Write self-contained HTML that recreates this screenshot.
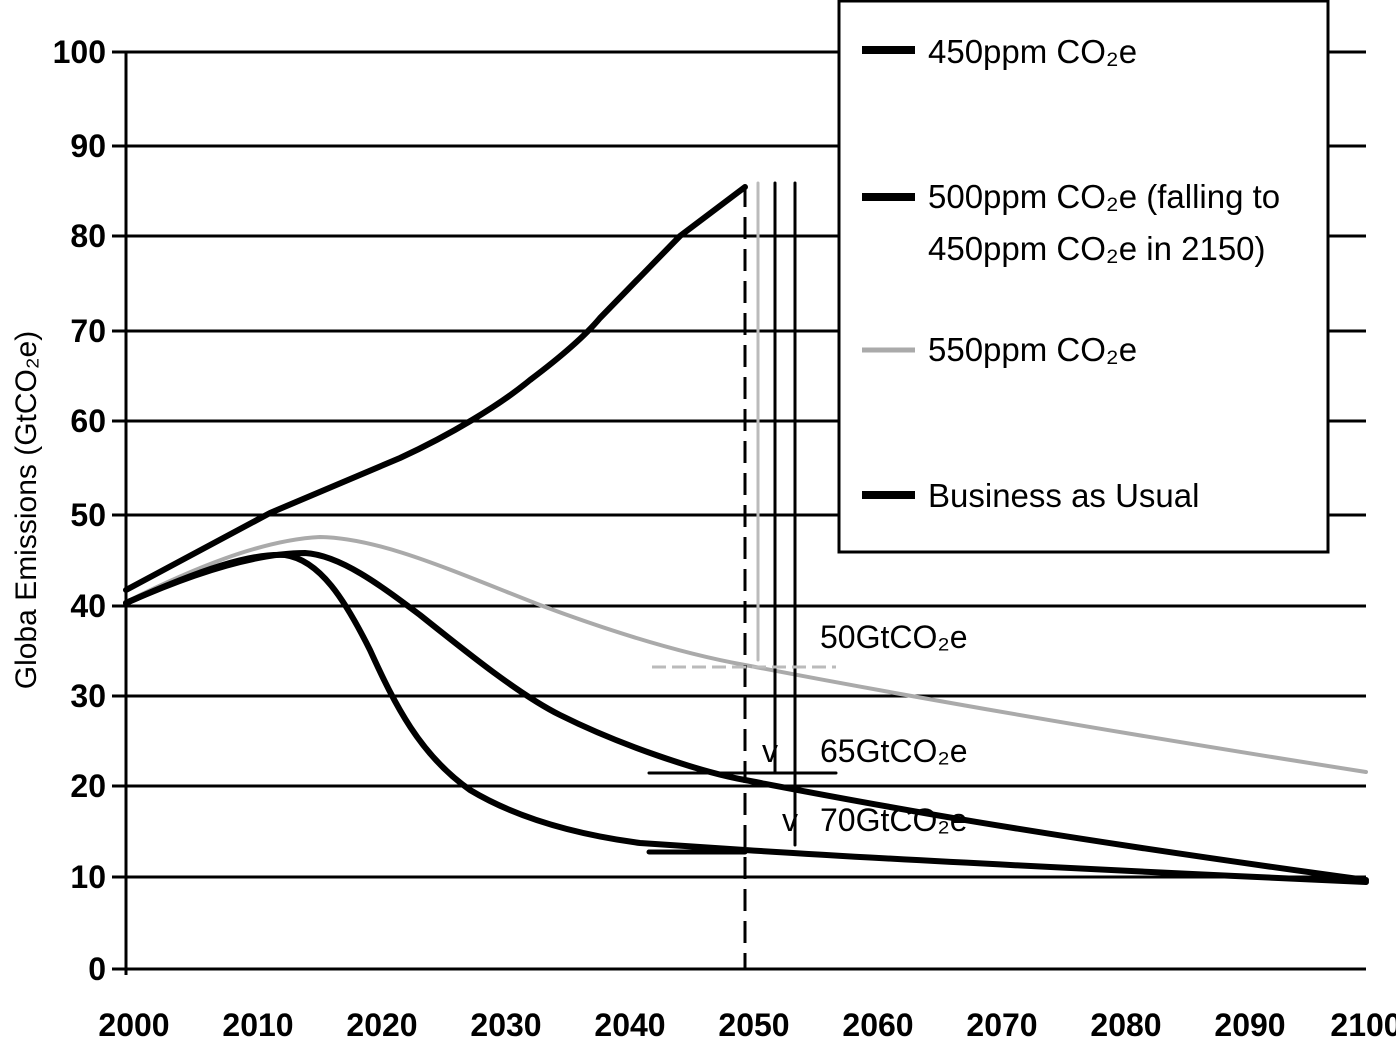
<!DOCTYPE html>
<html><head><style>body{margin:0;background:#fff}svg{display:block}text{font-family:"Liberation Sans",sans-serif}</style></head>
<body>
<svg width="1396" height="1040" viewBox="0 0 1396 1040">
<g stroke="#000" stroke-width="3">
<line x1="112" y1="52" x2="1366" y2="52"/><line x1="112" y1="146" x2="1366" y2="146"/>
<line x1="112" y1="236" x2="1366" y2="236"/><line x1="112" y1="331" x2="1366" y2="331"/>
<line x1="112" y1="421" x2="1366" y2="421"/><line x1="112" y1="515" x2="1366" y2="515"/>
<line x1="112" y1="606" x2="1366" y2="606"/><line x1="112" y1="696" x2="1366" y2="696"/>
<line x1="112" y1="786" x2="1366" y2="786"/><line x1="112" y1="877" x2="1366" y2="877"/>
<line x1="112" y1="969" x2="1366" y2="969"/>
<line x1="126" y1="52" x2="126" y2="975"/>
</g>
<g font-size="32" font-weight="bold" text-anchor="end">
<text x="106" y="63">100</text><text x="106" y="157">90</text><text x="106" y="247">80</text>
<text x="106" y="342">70</text><text x="106" y="432">60</text><text x="106" y="526">50</text>
<text x="106" y="617">40</text><text x="106" y="707">30</text><text x="106" y="797">20</text>
<text x="106" y="888">10</text><text x="106" y="980">0</text>
</g>
<g font-size="32" font-weight="bold" text-anchor="middle">
<text x="134" y="1036">2000</text><text x="258" y="1036">2010</text><text x="382" y="1036">2020</text>
<text x="506" y="1036">2030</text><text x="630" y="1036">2040</text><text x="754" y="1036">2050</text>
<text x="878" y="1036">2060</text><text x="1002" y="1036">2070</text><text x="1126" y="1036">2080</text>
<text x="1250" y="1036">2090</text><text x="1366" y="1036">2100</text>
</g>
<text transform="translate(36,510) rotate(-90)" font-size="30" text-anchor="middle">Globa Emissions (GtCO₂e)</text>
<g fill="none" stroke-linejoin="round" stroke-linecap="round">
<path stroke="#aaa" stroke-width="4" d="M126,602 C190,570 260,540 320,537 C380,538 450,570 540,605 C620,635 690,655 745,665 C900,695 1100,730 1366,772"/>
<path stroke="#000" stroke-width="6" d="M126,590 L270,513 L400,458 C450,435 500,405 530,380 C570,350 590,330 600,318 L680,236 L745,187"/>
<path stroke="#000" stroke-width="6" d="M126,603 C200,570 260,553 305,553 C340,555 380,585 420,615 C470,655 520,695 560,715 C620,745 700,772 745,780 C850,800 1000,830 1366,880"/>
<path stroke="#000" stroke-width="6" d="M126,603 C200,570 250,553 285,555 C320,560 345,600 370,650 C395,705 420,755 470,790 C520,820 580,835 640,843 L745,850 C900,860 1100,870 1366,882"/>
<line x1="745" y1="185" x2="745" y2="969" stroke="#000" stroke-width="3" stroke-dasharray="22,10" stroke-linecap="butt"/>
<line x1="758" y1="183" x2="758" y2="660" stroke="#bbb" stroke-width="3"/>
<line x1="775" y1="183" x2="775" y2="772" stroke="#000" stroke-width="3"/>
<line x1="795" y1="183" x2="795" y2="845" stroke="#000" stroke-width="3"/>
<line x1="652" y1="667" x2="836" y2="667" stroke="#bbb" stroke-width="3" stroke-dasharray="14,6" stroke-linecap="butt"/>
<line x1="649" y1="773" x2="836" y2="773" stroke="#000" stroke-width="3"/>
<line x1="649" y1="852" x2="745" y2="852" stroke="#000" stroke-width="5"/>
</g>
<g font-size="32">
<text x="820" y="648">50GtCO₂e</text>
<text x="820" y="762">65GtCO₂e</text>
<text x="820" y="831">70GtCO₂e</text>
<text x="762" y="762">v</text><text x="782" y="831">v</text>
</g>
<rect x="839" y="1" width="489" height="551" fill="#fff" stroke="#000" stroke-width="3"/>
<g stroke-width="8">
<line x1="862" y1="50" x2="915" y2="50" stroke="#000"/>
<line x1="862" y1="197" x2="915" y2="197" stroke="#000"/>
<line x1="862" y1="350" x2="915" y2="350" stroke="#aaa" stroke-width="5"/>
<line x1="862" y1="495" x2="915" y2="495" stroke="#000"/>
</g>
<g font-size="33">
<text x="928" y="63">450ppm CO₂e</text>
<text x="928" y="208">500ppm CO₂e (falling to</text>
<text x="928" y="260">450ppm CO₂e in 2150)</text>
<text x="928" y="361">550ppm CO₂e</text>
<text x="928" y="507">Business as Usual</text>
</g>
</svg>
</body></html>
